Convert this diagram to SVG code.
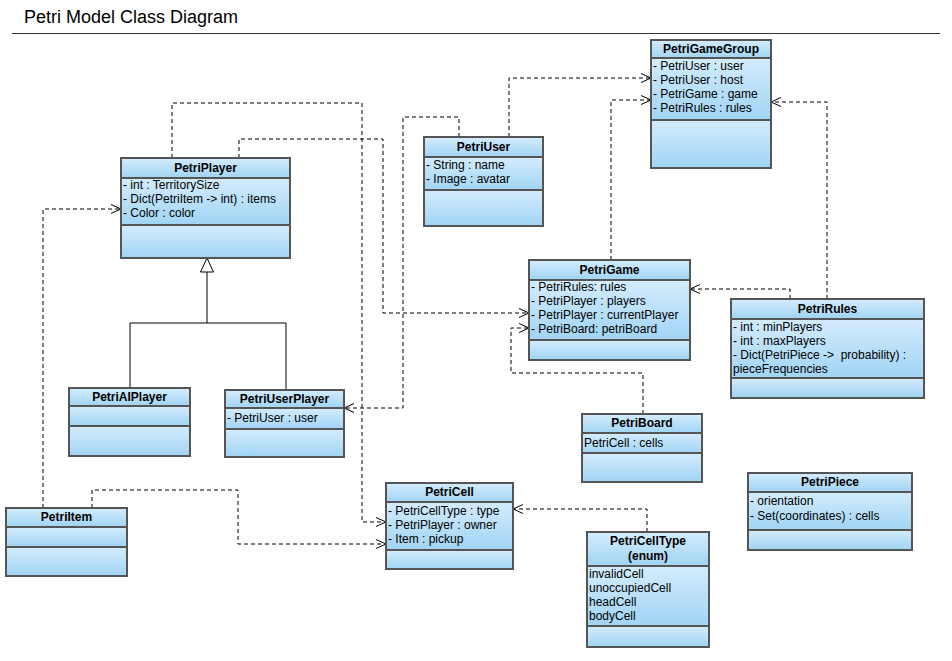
<svg xmlns="http://www.w3.org/2000/svg" width="952" height="661" viewBox="0 0 952 661">
<style>
.c{stroke:#555;stroke-width:2;fill:url(#g)}
.h{font-family:"Liberation Sans",Arial,sans-serif;font-size:12px;font-weight:bold;text-anchor:middle;fill:#000}
.a{font-family:"Liberation Sans",Arial,sans-serif;font-size:12px;fill:#000;white-space:pre}
.d{fill:none;stroke:#000;stroke-width:1;stroke-dasharray:4,3;marker-end:url(#ar)}
.s{fill:none;stroke:#000;stroke-width:1}
</style>
<defs>
<linearGradient id="g" x1="0" y1="0" x2="0" y2="1">
<stop offset="0" stop-color="#d4ecfc"/>
<stop offset="1" stop-color="#a0d4f4"/>
</linearGradient>
<marker id="ar" viewBox="0 0 12 12" refX="11" refY="6" markerWidth="12" markerHeight="12" markerUnits="userSpaceOnUse" orient="auto">
<path d="M1,1.5 L11,6 L1,10.5" fill="none" stroke="#000" stroke-width="1"/>
</marker>
</defs>
<rect width="952" height="661" fill="#fff"/>
<text x="24" y="23" font-family="Liberation Sans,Arial,sans-serif" font-size="18" fill="#000">Petri Model Class Diagram</text>
<line x1="12" y1="33.5" x2="940" y2="33.5" stroke="#333" stroke-width="1"/>

<g id="connectors">
<path class="d" d="M509,137 V78 H651"/>
<path class="d" d="M611,260 V100 H651"/>
<path class="d" d="M827,299 V102 H771"/>
<path class="d" d="M790,299 V289 H690"/>
<path class="d" d="M172,158 V103 H362 V522 H386"/>
<path class="d" d="M239,158 V139 H383 V313 H529"/>
<path class="d" d="M459,137 V117 H403 V408 H344"/>
<path class="d" d="M643,414 V373 H511 V328 H529"/>
<path class="d" d="M43,508 V209 H121"/>
<path class="d" d="M92,508 V490 H238 V544 H386"/>
<path class="d" d="M647,532 V509 H513"/>
<path class="s" d="M130,388 V323 H286 V390"/>
<path class="s" d="M207,323 V272"/>
<polygon points="207,258 200.5,272 213.5,272" fill="#fff" stroke="#000" stroke-width="1"/>
</g>

<g id="PetriGameGroup">
<rect class="c" x="651" y="40" width="120" height="18"/>
<rect class="c" x="651" y="58" width="120" height="62"/>
<rect class="c" x="651" y="120" width="120" height="48"/>
<text class="h" x="711" y="53">PetriGameGroup</text>
<text class="a" x="653" y="70">- PetriUser : user</text>
<text class="a" x="653" y="84">- PetriUser : host</text>
<text class="a" x="653" y="98">- PetriGame : game</text>
<text class="a" x="653" y="112">- PetriRules : rules</text>
</g>

<g id="PetriUser">
<rect class="c" x="424" y="137" width="119" height="20"/>
<rect class="c" x="424" y="157" width="119" height="33"/>
<rect class="c" x="424" y="190" width="119" height="36"/>
<text class="h" x="483.5" y="151">PetriUser</text>
<text class="a" x="426" y="169">- String : name</text>
<text class="a" x="426" y="183">- Image : avatar</text>
</g>

<g id="PetriPlayer">
<rect class="c" x="121" y="158" width="169" height="20"/>
<rect class="c" x="121" y="178" width="169" height="47"/>
<rect class="c" x="121" y="225" width="169" height="33"/>
<text class="h" x="205.5" y="172">PetriPlayer</text>
<text class="a" x="123" y="189">- int : TerritorySize</text>
<text class="a" x="123" y="203">- Dict(PetriItem -&gt; int) : items</text>
<text class="a" x="123" y="217">- Color : color</text>
</g>

<g id="PetriGame">
<rect class="c" x="529" y="260" width="161" height="20"/>
<rect class="c" x="529" y="280" width="161" height="60"/>
<rect class="c" x="529" y="340" width="161" height="20"/>
<text class="h" x="609.5" y="274">PetriGame</text>
<text class="a" x="531" y="291">- PetriRules: rules</text>
<text class="a" x="531" y="305">- PetriPlayer : players</text>
<text class="a" x="531" y="319">- PetriPlayer : currentPlayer</text>
<text class="a" x="531" y="333">- PetriBoard: petriBoard</text>
</g>

<g id="PetriRules">
<rect class="c" x="731" y="299" width="193" height="20"/>
<rect class="c" x="731" y="319" width="193" height="59"/>
<rect class="c" x="731" y="378" width="193" height="20"/>
<text class="h" x="827.5" y="313">PetriRules</text>
<text class="a" x="733" y="331">- int : minPlayers</text>
<text class="a" x="733" y="345">- int : maxPlayers</text>
<text class="a" x="733" y="359" xml:space="preserve">- Dict(PetriPiece -&gt;  probability) :</text>
<text class="a" x="733" y="373">pieceFrequencies</text>
</g>

<g id="PetriAIPlayer">
<rect class="c" x="69" y="388" width="121" height="18"/>
<rect class="c" x="69" y="406" width="121" height="20"/>
<rect class="c" x="69" y="426" width="121" height="30"/>
<text class="h" x="129.5" y="401">PetriAIPlayer</text>
</g>

<g id="PetriUserPlayer">
<rect class="c" x="225" y="390" width="119" height="18"/>
<rect class="c" x="225" y="408" width="119" height="21"/>
<rect class="c" x="225" y="429" width="119" height="28"/>
<text class="h" x="284.5" y="403">PetriUserPlayer</text>
<text class="a" x="227" y="422">- PetriUser : user</text>
</g>

<g id="PetriBoard">
<rect class="c" x="582" y="414" width="120" height="19"/>
<rect class="c" x="582" y="433" width="120" height="20"/>
<rect class="c" x="582" y="453" width="120" height="29"/>
<text class="h" x="642" y="427">PetriBoard</text>
<text class="a" x="584" y="447">PetriCell : cells</text>
</g>

<g id="PetriPiece">
<rect class="c" x="748" y="473" width="164" height="19"/>
<rect class="c" x="748" y="492" width="164" height="38"/>
<rect class="c" x="748" y="530" width="164" height="20"/>
<text class="h" x="830" y="486">PetriPiece</text>
<text class="a" x="750" y="505">- orientation</text>
<text class="a" x="750" y="520">- Set(coordinates) : cells</text>
</g>

<g id="PetriCell">
<rect class="c" x="386" y="483" width="127" height="19"/>
<rect class="c" x="386" y="502" width="127" height="48"/>
<rect class="c" x="386" y="550" width="127" height="19"/>
<text class="h" x="449.5" y="496">PetriCell</text>
<text class="a" x="388" y="515">- PetriCellType : type</text>
<text class="a" x="388" y="529">- PetriPlayer : owner</text>
<text class="a" x="388" y="543">- Item : pickup</text>
</g>

<g id="PetriCellType">
<rect class="c" x="587" y="532" width="122" height="34"/>
<rect class="c" x="587" y="566" width="122" height="60"/>
<rect class="c" x="587" y="626" width="122" height="21"/>
<text class="h" x="648" y="545">PetriCellType</text>
<text class="h" x="648" y="560">(enum)</text>
<text class="a" x="589" y="578">invalidCell</text>
<text class="a" x="589" y="592">unoccupiedCell</text>
<text class="a" x="589" y="606">headCell</text>
<text class="a" x="589" y="620">bodyCell</text>
</g>

<g id="PetriItem">
<rect class="c" x="6" y="508" width="121" height="19"/>
<rect class="c" x="6" y="527" width="121" height="20"/>
<rect class="c" x="6" y="547" width="121" height="29"/>
<text class="h" x="66.5" y="521">PetriItem</text>
</g>
</svg>
